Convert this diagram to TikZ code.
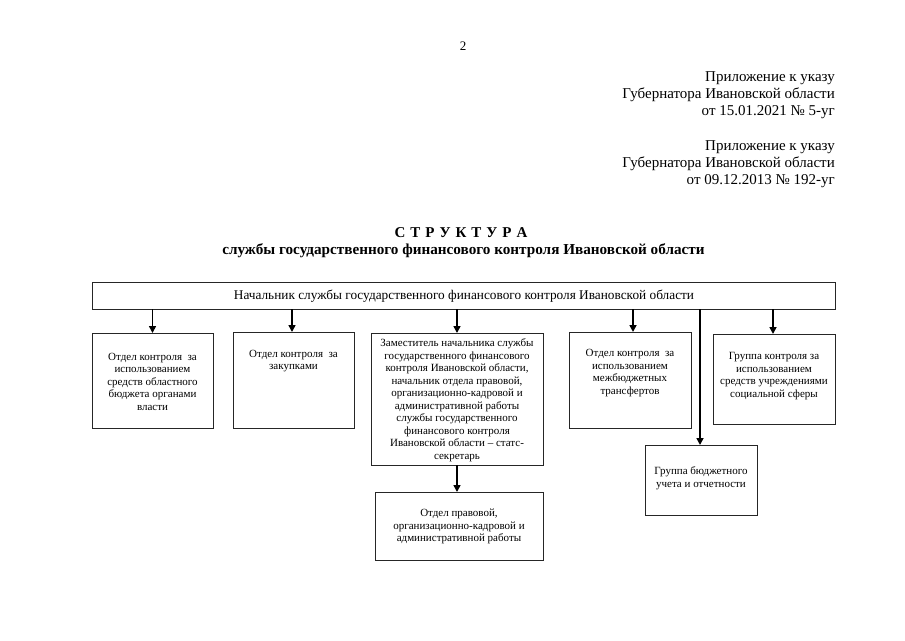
\documentclass[tikz,border=0pt]{standalone}
\usepackage{fontspec}
\setmainfont{Liberation Serif}
\usetikzlibrary{arrows.meta}
\tikzset{
  unitbox/.style={draw=black!85, line width=1pt, inner sep=0pt, outer sep=0pt},
  boxtext/.style={align=center, inner sep=0pt, font=\fontsize{11}{12.5}\selectfont},
  hdr/.style={align=right, inner sep=0pt, anchor=east, font=\fontsize{15}{17}\selectfont},
  conn/.style={line width=1.6pt, black, -{Triangle[length=7pt,width=7pt]}}
}
\begin{document}
\begin{tikzpicture}[x=1pt,y=-1pt]
\useasboundingbox[fill=white] (0,0) rectangle (905,640);
% page number
\node[inner sep=0pt, font=\fontsize{13}{15}\selectfont] (pg) at (463,46) {2};
% header
\node[hdr] (h1) at (835,95) {Приложение к указу\\Губернатора Ивановской области\\от 15.01.2021 № 5-уг};
\node[hdr] (h2) at (835,164) {Приложение к указу\\Губернатора Ивановской области\\от 09.12.2013 № 192-уг};
% title
\node[inner sep=0pt, font=\fontsize{15}{17}\selectfont\bfseries] (t1) at (461,233) {С\,\,Т\,\,Р\,\,У\,\,К\,\,Т\,\,У\,\,Р\,\,А};
\node[inner sep=0pt, font=\fontsize{15.2}{17}\selectfont\bfseries] (t2) at (463.5,251) {службы государственного финансового контроля Ивановской области};
% boxes
\node[unitbox, minimum width=743pt, minimum height=27pt] (T) at (463.5,295.5) {};
\node[unitbox, minimum width=121pt, minimum height=95pt] (B1) at (152.5,380.5) {};
\node[unitbox, minimum width=121pt, minimum height=96pt] (B2) at (293.5,380) {};
\node[unitbox, minimum width=172pt, minimum height=132pt] (B3) at (457,399) {};
\node[unitbox, minimum width=122pt, minimum height=96pt] (B4) at (630,380) {};
\node[unitbox, minimum width=122pt, minimum height=90pt] (B5) at (774,379) {};
\node[unitbox, minimum width=168pt, minimum height=68pt] (B6) at (459,526) {};
\node[unitbox, minimum width=112pt, minimum height=70pt] (B7) at (701,480) {};
% texts
\node[boxtext, font=\fontsize{13.3}{16}\selectfont] (TT) at (464,296) {Начальник службы государственного финансового контроля Ивановской области};
\node[boxtext] (X1) at (152.5,381.5) {Отдел контроля\ \ за\\использованием\\средств областного\\бюджета органами\\власти};
\node[boxtext] (X2) at (293.5,361) {Отдел контроля\ \ за\\закупками};
\node[boxtext] (X3) at (457,400) {Заместитель начальника службы\\государственного финансового\\контроля Ивановской области,\\начальник отдела правовой,\\организационно-кадровой и\\административной работы\\службы государственного\\финансового контроля\\Ивановской области – статс-\\секретарь};
\node[boxtext] (X4) at (630,373) {Отдел контроля\ \ за\\использованием\\межбюджетных\\трансфертов};
\node[boxtext] (X5) at (774,376) {Группа контроля за\\использованием\\средств учреждениями\\социальной сферы};
\node[boxtext] (X6) at (459,526.5) {Отдел правовой,\\организационно-кадровой и\\административной работы};
\node[boxtext] (X7) at (701,478) {Группа бюджетного\\учета и отчетности};
% connectors
\draw[conn] (T.south -| B1.north) -- (B1.north);
\draw[conn] ([xshift=-1.5pt]T.south -| B2.north) -- ([xshift=-1.5pt]B2.north);
\draw[conn] (T.south -| B3.north) -- (B3.north);
\draw[conn] ([xshift=3pt]T.south -| B4.north) -- ([xshift=3pt]B4.north);
\draw[conn] ([xshift=-1pt]T.south -| B5.north) -- ([xshift=-1pt]B5.north);
\draw[conn] (B3.south) -- (B3.south |- B6.north);
\draw[conn] ([xshift=-1pt]T.south -| B7.north) -- ([xshift=-1pt]B7.north);
\end{tikzpicture}
\end{document}
